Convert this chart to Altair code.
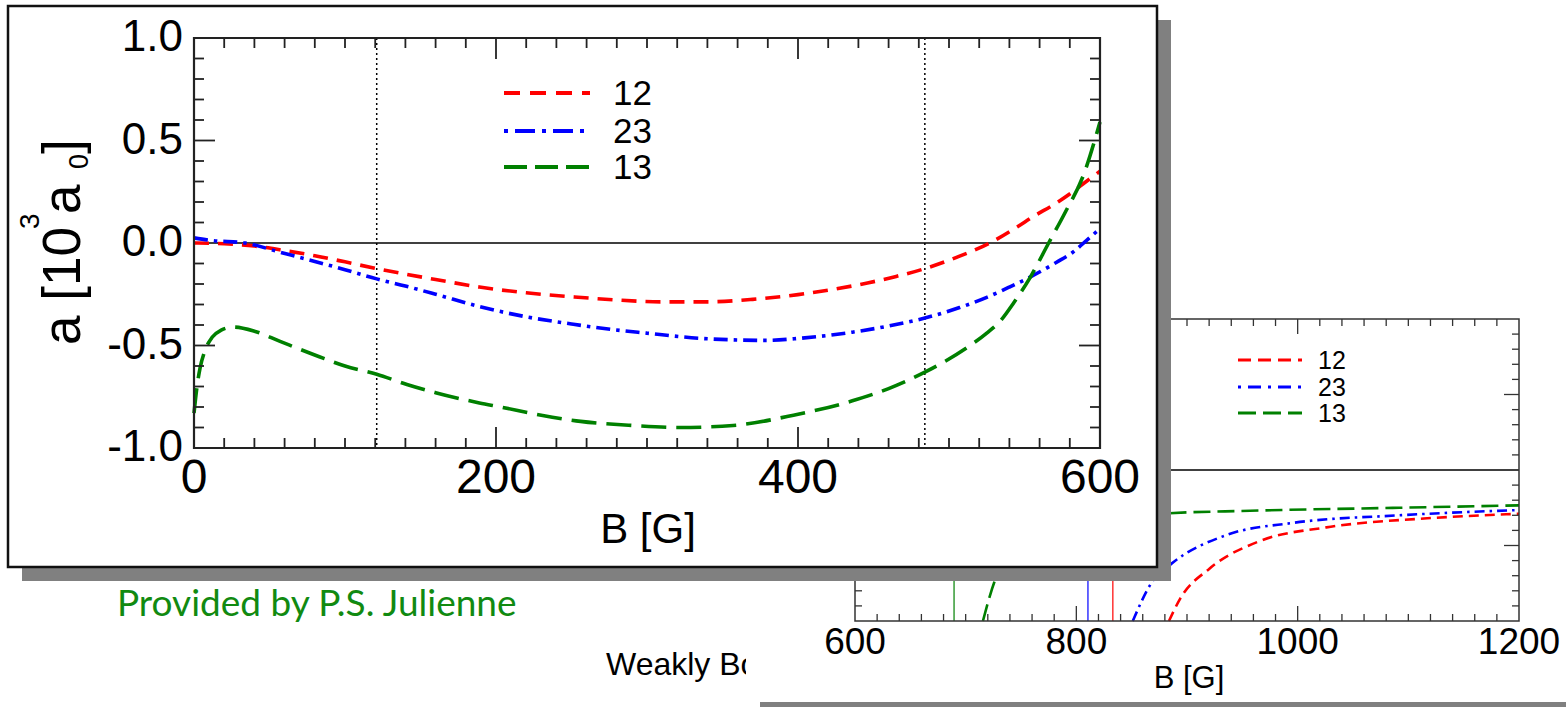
import altair as alt
import pandas as pd

# ---------------- data ----------------
SERIES = ["12", "23", "13"]
COLORS = {"12": "#ff0000", "23": "#0000ff", "13": "#008000"}

# main panel, B in G, a in 10^3 a0
MAIN_B_12 = [0, 20, 40, 60, 80, 100, 121, 140, 160, 189, 220, 250, 280, 310, 340, 370, 400, 420, 446, 465, 484, 505, 527, 545, 556, 570, 582, 590, 600]
MAIN_A_12 = [0, -0.004, -0.015, -0.037, -0.062, -0.092, -0.125, -0.152, -0.178, -0.215, -0.243, -0.262, -0.278, -0.287, -0.287, -0.275, -0.252, -0.23, -0.195, -0.163, -0.125, -0.07, 0.0, 0.078, 0.13, 0.19, 0.25, 0.295, 0.35]

MAIN_B_23 = [0, 12, 34, 57, 80, 100, 121, 140, 160, 189, 220, 250, 269, 300, 335, 360, 379, 401, 436, 460, 484, 507, 525, 540, 554, 571, 582, 591, 600]
MAIN_A_23 = [0.025, 0.012, 0.0, -0.045, -0.09, -0.13, -0.175, -0.21, -0.25, -0.31, -0.36, -0.395, -0.415, -0.44, -0.465, -0.473, -0.475, -0.465, -0.435, -0.405, -0.366, -0.315, -0.265, -0.215, -0.165, -0.095, -0.045, 0.012, 0.07]

MAIN_B_13 = [0, 2, 4, 7, 12, 18, 26, 40, 57, 83, 100, 121, 141, 160, 189, 203, 230, 256, 290, 322, 357, 397, 436, 460, 484, 512, 525, 534, 543, 554, 566, 577, 589, 600]
MAIN_A_13 = [-0.83, -0.70, -0.61, -0.53, -0.46, -0.425, -0.41, -0.43, -0.48, -0.555, -0.6, -0.64, -0.69, -0.73, -0.78, -0.80, -0.84, -0.87, -0.89, -0.90, -0.89, -0.84, -0.77, -0.71, -0.63, -0.51, -0.44, -0.38, -0.29, -0.165, 0.0, 0.15, 0.33, 0.59]

MAIN_MARKERS = [121, 484]          # dotted vertical lines

# second (background) panel
SEC_B_12 = [883.7, 894, 920, 966, 1026, 1117, 1200]
SEC_A_12 = [-1.0, -0.85, -0.655, -0.47, -0.38, -0.32, -0.29]
SEC_B_23 = [851, 869, 886, 936, 996, 1092, 1200]
SEC_A_23 = [-1.0, -0.735, -0.62, -0.43, -0.35, -0.30, -0.265]
SEC_B_13 = [715.6, 726, 750, 800, 850, 875, 957, 1092, 1200]
SEC_A_13 = [-1.0, -0.74, -0.50, -0.37, -0.31, -0.29, -0.27, -0.25, -0.234]
SEC_POLES = {"13": 689.5, "23": 810.5, "12": 833}

# tick labels
MAIN_X_LABELS = [0, 200, 400, 600]
MAIN_Y_LABELS = [1.0, 0.5, 0.0, -0.5, -1.0]
SEC_X_LABELS = [600, 800, 1000, 1200]

# ---------------- layout ----------------
W, H = 1566, 707
FONT = "Liberation Sans"
# main plot area (pixels)
MX0, MX1, MYB, MYT = 194, 1100, 448, 38
# second plot area
SX0, SX1, SYB, SYT = 855, 1519, 621, 319

ONE = pd.DataFrame({"d": [0]})


def sc(domain, rng):
    return alt.Scale(domain=domain, range=rng, nice=False, zero=False)


def mx(f):
    return alt.X(f, type="quantitative", scale=sc([0, 600], [MX0, MX1]), axis=None)


def my(f):
    return alt.Y(f, type="quantitative", scale=sc([-1, 1], [MYB, MYT]), axis=None)


def sx(f):
    return alt.X(f, type="quantitative", scale=sc([600, 1200], [SX0, SX1]), axis=None)


def sy(f):
    return alt.Y(f, type="quantitative", scale=sc([-1, 1], [SYB, SYT]), axis=None)


def rect(x0, x1, y0, y1, **kw):
    return alt.Chart(ONE).mark_rect(**kw).encode(
        x=alt.value(x0), x2=alt.value(x1), y=alt.value(y0), y2=alt.value(y1))


def hline(x0, x1, y, **kw):
    return alt.Chart(ONE).mark_rule(**kw).encode(
        x=alt.value(x0), x2=alt.value(x1), y=alt.value(y))


def text(t, x, y, **kw):
    df = pd.DataFrame({"t": [t]})
    return alt.Chart(df).mark_text(**kw).encode(
        x=alt.value(x), y=alt.value(y), text="t:N")


layers = []

# ---- loose slide text underneath ----
layers.append(text("Weakly Bound", 606, 675, font=FONT, fontSize=32,
                   align="left", baseline="alphabetic", color="black"))
layers.append(text("Provided by P.S. Julienne", 117, 616, font="Lato", fontSize=37,
                   align="left", baseline="alphabetic", color="#118a11"))

# ---- second panel (behind) ----
layers.append(rect(760, W + 20, 702, H + 20, color="#808080"))
layers.append(rect(746, W + 20, 290, 702, color="white"))

# zero line
layers.append(alt.Chart(pd.DataFrame({"a": [0.0]})).mark_rule(color="black", strokeWidth=1.3).encode(
    y=sy("a"), x=alt.value(SX0), x2=alt.value(SX1)))

# pole lines
for s, b in SEC_POLES.items():
    layers.append(alt.Chart(pd.DataFrame({"B": [b]})).mark_rule(color=COLORS[s], strokeWidth=1.2).encode(
        x=sx("B"), y=alt.value(SYT), y2=alt.value(SYB)))

SEC_DASH = {"12": [10, 6], "23": [10, 5, 2.5, 5], "13": [17, 7]}
for s, bs, as_ in [("12", SEC_B_12, SEC_A_12), ("23", SEC_B_23, SEC_A_23), ("13", SEC_B_13, SEC_A_13)]:
    df = pd.DataFrame({"B": bs, "a": as_})
    layers.append(alt.Chart(df).mark_line(color=COLORS[s], strokeWidth=2.6, strokeDash=SEC_DASH[s],
                                          interpolate="monotone").encode(x=sx("B"), y=sy("a")))

# frame
layers.append(rect(SX0, SX1, SYT, SYB, fillOpacity=0, stroke="#333333", strokeWidth=1.5))

# ticks (second panel)
sec_minor_x = [b for b in range(620, 1200, 20) if b % 200 != 0]
sec_major_x = [800, 1000]
sec_minor_y = [round(v / 10, 1) for v in range(-9, 10) if v % 5 != 0]
sec_major_y = [-0.5, 0.5]
for vals, ln in [(sec_minor_x, 7), (sec_major_x, 15)]:
    d = pd.DataFrame({"B": vals})
    layers.append(alt.Chart(d).mark_rule(color="#333333", strokeWidth=1.3).encode(
        x=sx("B"), y=alt.value(SYB), y2=alt.value(SYB - ln)))
    layers.append(alt.Chart(d).mark_rule(color="#333333", strokeWidth=1.3).encode(
        x=sx("B"), y=alt.value(SYT), y2=alt.value(SYT + ln)))
for vals, ln in [(sec_minor_y, 7), (sec_major_y, 15)]:
    d = pd.DataFrame({"a": vals})
    layers.append(alt.Chart(d).mark_rule(color="#333333", strokeWidth=1.3).encode(
        y=sy("a"), x=alt.value(SX0), x2=alt.value(SX0 + ln)))
    layers.append(alt.Chart(d).mark_rule(color="#333333", strokeWidth=1.3).encode(
        y=sy("a"), x=alt.value(SX1), x2=alt.value(SX1 - ln)))

# tick labels + title
layers.append(alt.Chart(pd.DataFrame({"B": SEC_X_LABELS, "t": [str(v) for v in SEC_X_LABELS]}))
              .mark_text(font=FONT, fontSize=37, align="center", baseline="middle", color="black")
              .encode(x=sx("B"), y=alt.value(643), text="t:N"))
layers.append(text("B [G]", 1189, 679, font=FONT, fontSize=31, align="center", baseline="middle", color="black"))

# legend (second panel)
SEC_LEG_DASH = {"12": [13, 7], "23": [3, 7, 13, 7], "13": [18, 7]}
for i, s in enumerate(SERIES):
    yy = [360, 387, 413][i]
    layers.append(hline(1238, 1302, yy, color=COLORS[s], strokeWidth=3, strokeDash=SEC_LEG_DASH[s]))
    layers.append(text(s, 1318, yy + 1, font=FONT, fontSize=25, align="left", baseline="middle", color="black"))

# ---- main panel (front) ----
layers.append(rect(22, 1171, 20, 581, color="#808080"))
layers.append(rect(8, 1157, 6, 567, fill="white", stroke="#111111", strokeWidth=2.5))

# dotted markers
layers.append(alt.Chart(pd.DataFrame({"B": MAIN_MARKERS})).mark_rule(color="black", strokeWidth=1.5, strokeDash=[2, 3]).encode(
    x=mx("B"), y=alt.value(MYT), y2=alt.value(MYB)))
# zero line
layers.append(alt.Chart(pd.DataFrame({"a": [0.0]})).mark_rule(color="black", strokeWidth=1.6).encode(
    y=my("a"), x=alt.value(MX0), x2=alt.value(MX1)))

MAIN_DASH = {"12": [15, 9], "23": [14, 6, 3.5, 6], "13": [25, 10]}
for s, bs, as_ in [("12", MAIN_B_12, MAIN_A_12), ("23", MAIN_B_23, MAIN_A_23), ("13", MAIN_B_13, MAIN_A_13)]:
    df = pd.DataFrame({"B": bs, "a": as_})
    layers.append(alt.Chart(df).mark_line(color=COLORS[s], strokeWidth=3.6, strokeDash=MAIN_DASH[s],
                                          interpolate="monotone").encode(x=mx("B"), y=my("a")))

# frame
layers.append(rect(MX0, MX1, MYT, MYB, fillOpacity=0, stroke="#222222", strokeWidth=2.2))

main_minor_x = [b for b in range(20, 600, 20) if b % 200 != 0]
main_major_x = [200, 400]
main_minor_y = [round(v / 10, 1) for v in range(-9, 10) if v % 5 != 0]
main_major_y = [-0.5, 0.5]
for vals, ln in [(main_minor_x, 10), (main_major_x, 21)]:
    d = pd.DataFrame({"B": vals})
    layers.append(alt.Chart(d).mark_rule(color="#222222", strokeWidth=1.8).encode(
        x=mx("B"), y=alt.value(MYB), y2=alt.value(MYB - ln)))
    layers.append(alt.Chart(d).mark_rule(color="#222222", strokeWidth=1.8).encode(
        x=mx("B"), y=alt.value(MYT), y2=alt.value(MYT + ln)))
for vals, ln in [(main_minor_y, 10), (main_major_y, 21)]:
    d = pd.DataFrame({"a": vals})
    layers.append(alt.Chart(d).mark_rule(color="#222222", strokeWidth=1.8).encode(
        y=my("a"), x=alt.value(MX0), x2=alt.value(MX0 + ln)))
    layers.append(alt.Chart(d).mark_rule(color="#222222", strokeWidth=1.8).encode(
        y=my("a"), x=alt.value(MX1), x2=alt.value(MX1 - ln)))

# tick labels
layers.append(alt.Chart(pd.DataFrame({"B": MAIN_X_LABELS, "t": [str(v) for v in MAIN_X_LABELS]}))
              .mark_text(font=FONT, fontSize=48, align="center", baseline="middle", color="black")
              .encode(x=mx("B"), y=alt.value(479), text="t:N"))
layers.append(alt.Chart(pd.DataFrame({"a": MAIN_Y_LABELS, "t": [f"{v:.1f}" for v in MAIN_Y_LABELS]}))
              .mark_text(font=FONT, fontSize=44, align="right", baseline="middle", color="black")
              .encode(y=my("a"), x=alt.value(183), text="t:N"))

# axis titles
layers.append(text("B [G]", 648, 530, font=FONT, fontSize=42, align="center", baseline="middle", color="black"))
# rotated y title built from pieces: a [10^3 a_0]
YT_BASE = 80
layers.append(text("a [10", YT_BASE, 345, font=FONT, fontSize=53, angle=270, align="left", baseline="alphabetic", color="black"))
layers.append(text("3", 39, 229, font=FONT, fontSize=28, angle=270, align="left", baseline="alphabetic", color="black"))
layers.append(text(" a", YT_BASE, 214, font=FONT, fontSize=53, angle=270, align="left", baseline="alphabetic", color="black"))
layers.append(text("0", 88, 169, font=FONT, fontSize=27, angle=270, align="left", baseline="alphabetic", color="black"))
layers.append(text("]", YT_BASE, 154, font=FONT, fontSize=53, angle=270, align="left", baseline="alphabetic", color="black"))

# legend (main)
MAIN_LEG_DASH = {"12": [16, 10], "23": [4, 7, 20, 7], "13": [23, 8]}
for i, s in enumerate(SERIES):
    yy = [93, 131, 167][i]
    layers.append(hline(504, 590, yy, color=COLORS[s], strokeWidth=4, strokeDash=MAIN_LEG_DASH[s]))
    layers.append(text(s, 613, yy + 1, font=FONT, fontSize=35, align="left", baseline="middle", color="black"))

chart = (
    alt.layer(*layers)
    .resolve_scale(x="independent", y="independent")
    .properties(width=W, height=H, autosize=alt.AutoSizeParams(type="none"), padding=0,
                background="white")
    .configure_view(stroke=None)
)

chart.save("out.html", embed_options={"renderer": "svg", "actions": False})
